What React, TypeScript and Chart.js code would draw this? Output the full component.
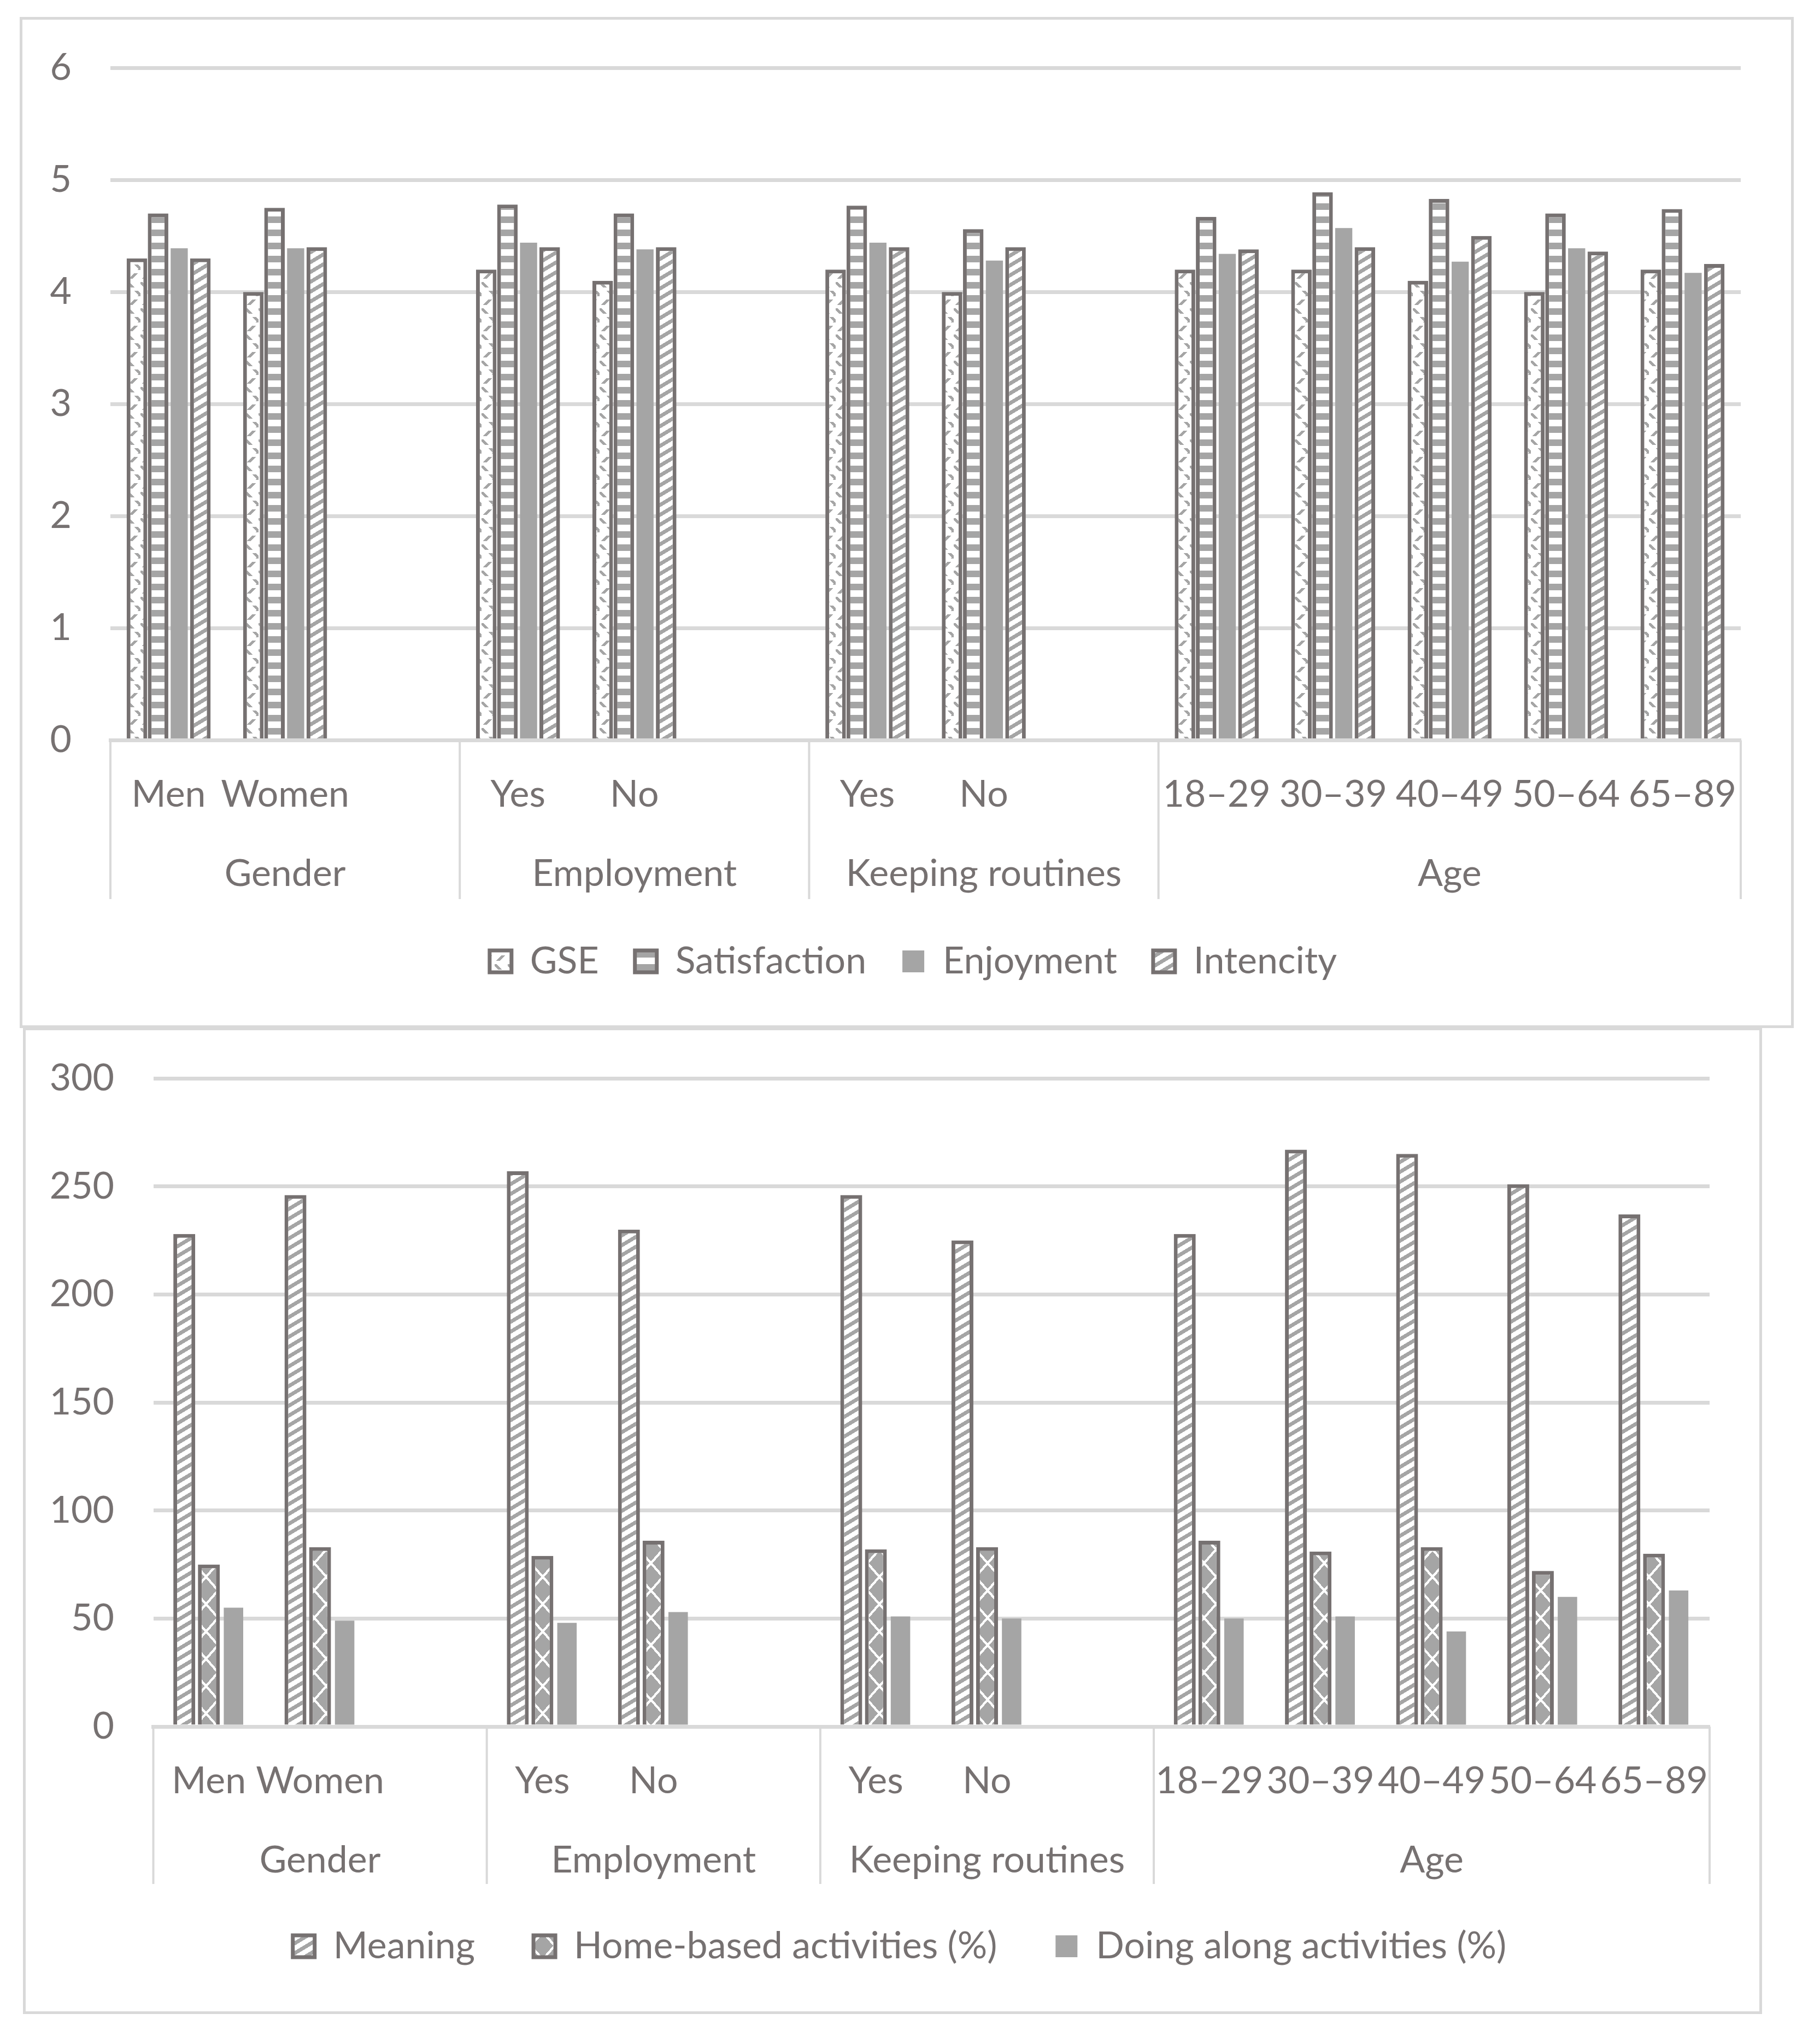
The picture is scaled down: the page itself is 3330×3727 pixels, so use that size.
import React, { useEffect, useRef } from 'react';
import { Chart, registerables } from 'chart.js';

Chart.register(...registerables);

// ---------- data ----------
const categories = ['Men', 'Women', '', 'Yes', 'No', '', 'Yes', 'No', '', '18–29', '30–39', '40–49', '50–64', '65–89'];
const groupLabels = ['Gender', 'Employment', 'Keeping routines', 'Age'];
const groupSizes = [3, 3, 3, 5];

const gse = [4.3, 4.0, null, 4.2, 4.1, null, 4.2, 4.0, null, 4.2, 4.2, 4.1, 4.0, 4.2];
const satisfaction = [4.7, 4.75, null, 4.78, 4.7, null, 4.77, 4.56, null, 4.67, 4.89, 4.83, 4.7, 4.74];
const enjoyment = [4.39, 4.39, null, 4.44, 4.38, null, 4.44, 4.28, null, 4.34, 4.57, 4.27, 4.39, 4.17];
const intencity = [4.3, 4.4, null, 4.4, 4.4, null, 4.4, 4.4, null, 4.38, 4.4, 4.5, 4.36, 4.25];

const meaning = [228, 246, null, 257, 230, null, 246, 225, null, 228, 267, 265, 251, 237];
const homeBased = [75, 83, null, 79, 86, null, 82, 83, null, 86, 81, 83, 72, 80];
const doingAlong = [55, 49, null, 48, 53, null, 51, 50, null, 50, 51, 44, 60, 63];

const topYTicks = [0, 1, 2, 3, 4, 5, 6];
const bottomYTicks = [0, 50, 100, 150, 200, 250, 300];

// ---------- style ----------
const FONT = 'Lato, "Open Sans", sans-serif';
const FONT_SIZE = 68;
const TEXT = '#767171';
const GRID = '#d9d9d9';
const EDGE = '#767171';
const FILL = '#a5a5a5';

function makePattern(kind: string): any {
  const specs: any = {
    zigzag: [24, 48, (x: number, y: number) => {
      const xz = y < 24 ? y : 48 - y;
      return Math.abs(x - xz) < 3.5 && (y % 16) < 10;
    }],
    stripes: [4, 24, (_x: number, y: number) => (y % 24) < 12],
    diagonal: [30, 18, (x: number, y: number) => ((y + 0.6 * x) % 18) < 8],
    diamond: [44, 50, (x: number, y: number) => {
      const centers = [[0, 0], [44, 0], [0, 50], [44, 50], [22, 25]];
      for (const [cx, cy] of centers) {
        if (Math.abs(x - cx) / 19 + Math.abs(y - cy) / 22 <= 1) return true;
      }
      return false;
    }],
  };
  const [w, h, fn] = specs[kind];
  const c = document.createElement('canvas');
  c.width = w;
  c.height = h;
  const g = c.getContext('2d')!;
  const img = g.createImageData(w, h);
  for (let y = 0; y < h; y++) {
    for (let x = 0; x < w; x++) {
      const on = fn(x + 0.5, y + 0.5);
      const i = (y * w + x) * 4;
      const v = on ? 165 : 255;
      img.data[i] = v;
      img.data[i + 1] = v;
      img.data[i + 2] = v;
      img.data[i + 3] = 255;
    }
  }
  g.putImageData(img, 0, 0);
  return g.createPattern(c, 'repeat');
}

function multiLevelPlugin(row1Y: number, row2Y: number, sepBottom: number, legendCenter: number) {
  return {
    id: 'multiLevel',
    afterLayout(chart: any) {
      const lg = chart.legend;
      if (lg) {
        const dx = legendCenter - (lg.left + lg.right) / 2;
        lg.left += dx;
        lg.right += dx;
      }
    },
    afterDraw(chart: any) {
      const { ctx, chartArea } = chart;
      const xs = chart.scales.x;
      const slot = (xs.right - xs.left) / categories.length;
      const capHalf = FONT_SIZE * 0.358;
      ctx.save();
      ctx.font = `${FONT_SIZE}px ${FONT}`;
      ctx.fillStyle = TEXT;
      ctx.textAlign = 'center';
      ctx.textBaseline = 'alphabetic';
      categories.forEach((c, i) => {
        if (c) ctx.fillText(c, xs.getPixelForValue(i), row1Y + capHalf);
      });
      ctx.strokeStyle = GRID;
      ctx.lineWidth = 4;
      let start = 0;
      const bounds = [0];
      groupSizes.forEach((n, gi) => {
        const x0 = xs.left + start * slot;
        const x1 = xs.left + (start + n) * slot;
        ctx.fillText(groupLabels[gi], (x0 + x1) / 2, row2Y + capHalf);
        start += n;
        bounds.push(start);
      });
      bounds.forEach((b) => {
        const x = xs.left + b * slot;
        ctx.beginPath();
        ctx.moveTo(x, chartArea.bottom);
        ctx.lineTo(x, sepBottom);
        ctx.stroke();
      });
      ctx.restore();
    },
  };
}

function buildConfig(p: any) {
  return {
    type: 'bar',
    data: { labels: categories, datasets: p.datasets },
    options: {
      responsive: false,
      animation: false,
      events: [],
      layout: { padding: p.padding },
      plugins: {
        legend: {
          position: 'bottom',
          labels: {
            font: { family: FONT, size: FONT_SIZE },
            color: TEXT,
            boxWidth: 40,
            boxHeight: 40,
            padding: p.legendPad,
          },
        },
        tooltip: { enabled: false },
      },
      scales: {
        x: {
          grid: { display: false },
          border: { display: true, color: GRID, width: 7 },
          ticks: { display: false },
          afterFit: (s: any) => { s.height = p.xHeight; s.paddingLeft = 0; s.paddingRight = 0; },
        },
        y: {
          min: 0,
          max: p.yTicks[p.yTicks.length - 1],
          afterBuildTicks: (s: any) => { s.ticks = p.yTicks.map((v: number) => ({ value: v })); },
          grid: { color: GRID, lineWidth: 7, drawTicks: false },
          border: { display: false },
          ticks: { font: { family: FONT, size: FONT_SIZE }, color: TEXT, padding: p.tickPad },
          afterFit: (s: any) => { s.width = p.yWidth; s.paddingTop = 0; s.paddingBottom = 0; },
        },
      },
    },
    plugins: [multiLevelPlugin(p.row1Y, p.row2Y, p.sepBottom, p.legendCenter)],
  };
}

function topConfig() {
  const cp = 0.7265;
  const bordered = { borderColor: EDGE, borderWidth: 7, borderSkipped: 'start', barPercentage: 0.97, categoryPercentage: cp };
  return buildConfig({
    datasets: [
      { label: 'GSE', data: gse, backgroundColor: makePattern('zigzag'), ...bordered },
      { label: 'Satisfaction', data: satisfaction, backgroundColor: makePattern('stripes'), ...bordered },
      { label: 'Enjoyment', data: enjoyment, backgroundColor: FILL, borderWidth: 0, barPercentage: 0.81, categoryPercentage: cp },
      { label: 'Intencity', data: intencity, backgroundColor: makePattern('diagonal'), ...bordered },
    ],
    padding: { left: 0, right: 92, top: 88, bottom: 73 },
    yWidth: 161,
    tickPad: 71,
    xHeight: 304.5,
    legendPad: 66,
    legendCenter: 1630,
    yTicks: topYTicks,
    row1Y: 1416,
    row2Y: 1561,
    sepBottom: 1609,
  });
}

function bottomConfig() {
  const cp = 0.664;
  const bordered = { borderColor: EDGE, borderWidth: 7, borderSkipped: 'start', barPercentage: 0.89, categoryPercentage: cp };
  return buildConfig({
    datasets: [
      { label: 'Meaning', data: meaning, backgroundColor: makePattern('diagonal'), ...bordered },
      { label: 'Home-based activities (%)', data: homeBased, backgroundColor: makePattern('diamond'), ...bordered },
      { label: 'Doing along activities (%)', data: doingAlong, backgroundColor: FILL, borderWidth: 0, barPercentage: 0.79, categoryPercentage: cp },
    ],
    padding: { left: 0, right: 91, top: 88, bottom: 75 },
    yWidth: 233.5,
    tickPad: 71.5,
    xHeight: 261,
    legendPad: 107,
    legendCenter: 1599,
    yTicks: bottomYTicks,
    row1Y: 1372,
    row2Y: 1517,
    sepBottom: 1562,
  });
}

function ChartPanel({ left, top, width, height, build }: any) {
  const ref = useRef<HTMLCanvasElement>(null);
  useEffect(() => {
    const canvas = ref.current!;
    const chart = new Chart(canvas, build() as any);
    let alive = true;
    if ((document as any).fonts) {
      (document as any).fonts.load(`${FONT_SIZE}px Lato`).then(() => { if (alive) chart.update(); }).catch(() => {});
    }
    return () => { alive = false; chart.destroy(); };
  }, []);
  return (
    <div style={{ position: 'absolute', left, top, width, height, border: `5px solid ${GRID}`, background: '#fff' }}>
      <canvas ref={ref} width={width} height={height} style={{ display: 'block', width, height }} />
    </div>
  );
}

export default function App() {
  return (
    <div>
      <ChartPanel left={36} top={31} width={3236} height={1840} build={topConfig} />
      <ChartPanel left={42} top={1880} width={3172} height={1795} build={bottomConfig} />
    </div>
  );
}
